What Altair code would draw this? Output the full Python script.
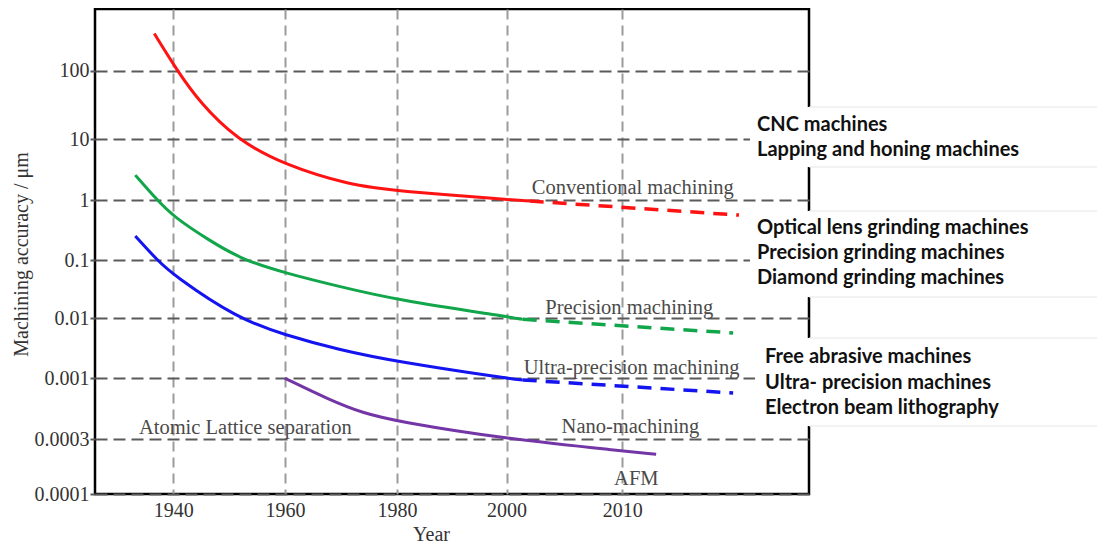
import altair as alt
import pandas as pd

# ---------------- data ----------------
conv_year = [1936.6, 1940.7, 1944.8, 1951.3, 1960, 1971.6, 1980, 2000, 2002]
conv_acc = [400, 100, 34, 10, 3.75, 1.76, 1.41, 1.02, 0.96]
conv_future_year = [2002, 2020]
conv_future_acc = [0.96, 0.56]

prec_year = [1933.2, 1937.1, 1940, 1946.6, 1952.5, 1960, 1969.8, 1980, 2000, 2001.4]
prec_acc = [2.57, 1.0, 0.53, 0.207, 0.1, 0.0598, 0.0348, 0.0206, 0.0107, 0.0096]
prec_future_year = [2001.4, 2019.5]
prec_future_acc = [0.0096, 0.0057]

ultra_year = [1933.2, 1937.1, 1940, 1951.4, 1960, 1969.8, 1980, 2000, 2001.4]
ultra_acc = [0.251, 0.1, 0.0553, 0.01, 0.00527, 0.00296, 0.00189, 0.001, 0.000967]
ultra_future_year = [2001.4, 2019.5]
ultra_future_acc = [0.000967, 0.000747]

nano_year = [1960, 1968, 1973.9, 1980, 2000, 2010, 2012.9]
nano_acc = [0.001, 0.00065, 0.000502, 0.000425, 0.0003, 0.000237, 0.000221]

series_names = ["Conventional", "Precision", "Ultra-precision", "Nano"]
series_colors = ["#ff1212", "#12a64a", "#1414f0", "#7436a6"]

x_ticks = [1940, 1960, 1980, 2000, 2010]
y_ticks = [0.0001, 0.0003, 0.001, 0.01, 0.1, 1, 10, 100]

label_text = ["Conventional machining", "Precision machining", "Ultra-precision machining",
              "Nano-machining", "Atomic Lattice separation", "AFM"]
label_year = [2010.9, 2010.6, 2010.8, 2010.7, 1952.9, 2011.2]
label_acc = [1.58, 0.015, 0.00148, 0.00038, 0.000373, 0.000136]

machine_groups = [
    ["CNC machines", "Lapping and honing machines"],
    ["Optical lens grinding machines", "Precision grinding machines", "Diamond grinding machines"],
    ["Free abrasive machines", "Ultra- precision machines", "Electron beam lithography"],
]

# ---------------- layout (non-uniform axes of the original figure) ----------------
W, H = 714, 485
x_breaks = [1926, 1940, 1960, 1980, 2000, 2010, 2026]
x_px = [0, 78.3, 190, 302, 411.5, 527.3, 714]
y_breaks = [0.0001, 0.0003, 0.001, 0.01, 0.1, 1, 10, 100, 1000]
y_px = [485, 430, 369.3, 309.3, 251, 191, 130.3, 61.7, 0]

box_x = [(655, 1010), (655, 1010), (660, 1010)]
box_y = [(98, 158), (202, 288), (329, 417)]
box_text_x = [662, 662, 670]
box_text_y = [116, 218.7, 348]
box_line_h = [25, 25.3, 25.5]

SERIF = "Liberation Serif"

# ---------------- build tables ----------------
def rows(name, years, accs):
    return [{"series": name, "year": y, "acc": a} for y, a in zip(years, accs)]

solid = pd.DataFrame(rows("Conventional", conv_year, conv_acc) + rows("Precision", prec_year, prec_acc)
                     + rows("Ultra-precision", ultra_year, ultra_acc) + rows("Nano", nano_year, nano_acc))
future = pd.DataFrame(rows("Conventional", conv_future_year, conv_future_acc)
                      + rows("Precision", prec_future_year, prec_future_acc)
                      + rows("Ultra-precision", ultra_future_year, ultra_future_acc))
labels = pd.DataFrame({"text": label_text, "year": label_year, "acc": label_acc})

x_scale = alt.Scale(type="linear", domain=x_breaks, range=x_px, nice=False, zero=False)
y_scale = alt.Scale(type="log", domain=y_breaks, range=y_px, nice=False)
color = alt.Color("series:N", scale=alt.Scale(domain=series_names, range=series_colors), legend=None)

x_axis = alt.Axis(values=x_ticks, format="d", grid=True, gridColor="#9c9c9c", gridDash=[10, 6],
                  gridWidth=2, domain=False, ticks=False, labelFont=SERIF, labelFontSize=20,
                  labelColor="#333", labelPadding=6, title="Year", titleFont=SERIF,
                  titleFontSize=20, titleFontWeight="normal", titleColor="#333",
                  titleX=336, titleY=46, titleBaseline="alphabetic")
y_axis = alt.Axis(values=y_ticks, format=".4~f", grid=True, gridColor="#5a5a5a", gridDash=[12, 6],
                  gridWidth=2,
                  domain=False, tickSize=5, tickColor="#5a5a5a", tickWidth=2,
                  labelFont=SERIF, labelFontSize=20, labelColor="#333", labelPadding=1,
                  title="Machining accuracy / μm", titleFont=SERIF, titleFontSize=20,
                  titleFontWeight="normal", titleColor="#333", titleAngle=270, titleX=-68,
                  titleY=245, titleBaseline="alphabetic", titleAlign="center")

X = alt.X("year:Q", scale=x_scale, axis=x_axis)
Y = alt.Y("acc:Q", scale=y_scale, axis=y_axis)

solid_layer = alt.Chart(solid).mark_line(strokeWidth=3, interpolate="basis").encode(
    x=X, y=Y, color=color,
)
future_layer = alt.Chart(future).mark_line(strokeWidth=3.5, strokeDash=[14, 9]).encode(
    x=X, y=Y, color=color,
)
label_layer = alt.Chart(labels).mark_text(font=SERIF, fontSize=20.5, color="#4a4a4a",
                                          align="center", baseline="middle").encode(
    x=X, y=Y, text="text:N",
)

dummy = pd.DataFrame({"k": [0]})
overlay = []
for (x0, x1), (y0, y1), tx, ty, lh, lines in zip(box_x, box_y, box_text_x, box_text_y, box_line_h, machine_groups):
    overlay.append(alt.Chart(dummy).mark_rect(color="white").encode(
        x=alt.value(x0), x2=alt.value(x1), y=alt.value(y0), y2=alt.value(y1)))
    for yy in (y0, y1):
        overlay.append(alt.Chart(dummy).mark_rule(color="#e6e6e6", strokeWidth=1).encode(
            x=alt.value(W), x2=alt.value(x1), y=alt.value(yy)))
    overlay.append(alt.Chart(dummy).mark_text(text=lines, align="left", baseline="middle", font="Lato",
                                              fontWeight="bold", fontSize=20, lineHeight=lh,
                                              color="#111").encode(
        x=alt.value(tx), y=alt.value(ty)))

chart = alt.layer(solid_layer, future_layer, label_layer, *overlay).properties(
    width=W, height=H,
    autosize=alt.AutoSizeParams(type="none"),
    padding={"left": 87, "top": 1, "right": 288, "bottom": 50},
    background="white",
).configure_view(stroke="black", strokeWidth=2.5)

chart.save("out.html", embed_options={"renderer": "svg", "actions": False})
